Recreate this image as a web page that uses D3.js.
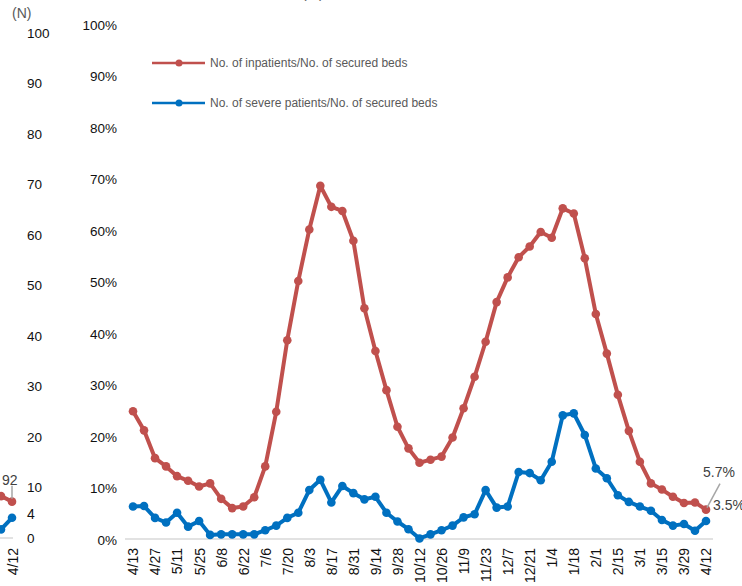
<!DOCTYPE html>
<html>
<head>
<meta charset="utf-8">
<script src="https://cdn.jsdelivr.net/npm/d3@7"></script>
<style>
  html, body { margin: 0; padding: 0; background: #fff; }
  svg { display: block; font-family: "Liberation Sans", Arial, sans-serif; }
</style>
</head>
<body>
<svg id="chart" width="742" height="586"></svg>
<script>
// ---- Data ----
const weeks = ["4/13","4/20","4/27","5/4","5/11","5/18","5/25","6/1","6/8","6/15","6/22","6/29",
  "7/6","7/13","7/20","7/27","8/3","8/10","8/17","8/24","8/31","9/7","9/14","9/21","9/28",
  "10/5","10/12","10/19","10/26","11/2","11/9","11/16","11/23","11/30","12/7","12/14","12/21","12/28",
  "1/4","1/11","1/18","1/25","2/1","2/8","2/15","2/22","3/1","3/8","3/15","3/22","3/29","4/5","4/12"];
const inpatientPct = [24.8,21.1,15.7,14.1,12.2,11.3,10.2,10.8,7.8,6.0,6.3,8.1,
  14.1,24.7,38.6,50.1,60.1,68.6,64.5,63.7,57.9,44.8,36.5,28.9,21.8,
  17.6,14.8,15.4,16.0,19.7,25.4,31.5,38.3,46.0,50.8,54.7,56.8,59.6,
  58.5,64.2,63.2,54.5,43.7,36.0,28.0,21.0,15.0,10.8,9.6,8.2,7.0,7.1,5.7];
const severePct = [6.3,6.4,4.1,3.2,5.1,2.4,3.5,0.8,0.9,0.9,0.9,0.9,
  1.7,2.6,4.1,5.1,9.5,11.5,7.1,10.3,8.9,7.7,8.2,5.1,3.4,
  1.9,0.1,0.9,1.7,2.6,4.2,4.8,9.5,6.1,6.3,13.0,12.8,11.4,
  15.0,24.0,24.4,20.2,13.7,11.8,8.5,7.2,6.3,5.5,3.7,2.6,2.9,1.6,3.5];
const pctTicks = [0,10,20,30,40,50,60,70,80,90,100];
const nTicks = [0,10,20,30,40,50,60,70,80,90,100];
const legendLabels = ["No. of inpatients/No. of secured beds", "No. of severe patients/No. of secured beds"];
const endLabels = ["5.7%", "3.5%"];

// cropped neighbouring panel (N units)
const leftWeeks = ["4/5","4/12"];
const leftInpatients = [8.3, 7.2];
const leftSevere = [1.7, 4];
const leftEndLabels = ["92", "4"];

// ---- Setup ----
const RED = "#C0504D", BLUE = "#0070C0";
const svg = d3.select("#chart");

const x = d3.scalePoint().domain(weeks).range([133, 706]);
const y = d3.scaleLinear().domain([0, 100]).range([539, 24]);
const xLeft = d3.scalePoint().domain(leftWeeks).range([1, 12]);
const yN = d3.scaleLinear().domain([0, 100]).range([538, 33]);

// ---- Axes ----
const pctAxis = d3.axisLeft(y).tickValues(pctTicks).tickSize(0).tickPadding(0)
  .tickFormat(d => d + "%");
const gPct = svg.append("g").attr("transform", "translate(117,1)").call(pctAxis);
gPct.select(".domain").remove();
gPct.selectAll("text").attr("font-size", 13.5).attr("fill", "#111")
  .attr("font-family", "'Liberation Sans', Arial, sans-serif");

const nAxis = d3.axisRight(yN).tickValues(nTicks).tickSize(0).tickPadding(0);
const gN = svg.append("g").attr("transform", "translate(27,0)").call(nAxis);
gN.select(".domain").remove();
gN.selectAll("text").attr("font-size", 13.5).attr("fill", "#111")
  .attr("font-family", "'Liberation Sans', Arial, sans-serif");

svg.append("text").attr("x", 12).attr("y", 18).attr("font-size", 14)
  .attr("fill", "#595959").text("(N)");
svg.append("text").attr("x", 302).attr("y", -2.5).attr("font-size", 14)
  .attr("fill", "#595959").text("(%)");

// baselines
svg.append("line").attr("x1", 125).attr("x2", 713).attr("y1", y(0)).attr("y2", y(0))
  .attr("stroke", "#d9d9d9").attr("stroke-width", 1.5);
svg.append("line").attr("x1", 0).attr("x2", 13).attr("y1", yN(0)).attr("y2", yN(0))
  .attr("stroke", "#d9d9d9").attr("stroke-width", 1.5);

// x tick labels
const xAxis = d3.axisBottom(x).tickValues(weeks.filter((d, i) => i % 2 === 0)).tickSize(0).tickPadding(0);
const gX = svg.append("g").attr("transform", "translate(0,548)").call(xAxis);
gX.select(".domain").remove();
gX.selectAll("text")
  .attr("transform", "rotate(-90)")
  .attr("text-anchor", "end")
  .attr("x", 0).attr("y", 0).attr("dy", "0.35em")
  .attr("font-size", 14).attr("fill", "#111")
  .attr("font-family", "'Liberation Sans', Arial, sans-serif");

const gXL = svg.append("g").attr("transform", "translate(1,548)")
  .call(d3.axisBottom(xLeft).tickValues(["4/12"]).tickSize(0).tickPadding(0));
gXL.select(".domain").remove();
gXL.selectAll("text")
  .attr("transform", "rotate(-90)").attr("text-anchor", "end")
  .attr("x", 0).attr("y", 0).attr("dy", "0.35em")
  .attr("font-size", 14).attr("fill", "#111")
  .attr("font-family", "'Liberation Sans', Arial, sans-serif");

// ---- Series ----
function drawSeries(values, color, xs, ys, keys) {
  const line = d3.line().x((d, i) => xs(keys[i])).y(d => ys(d));
  svg.append("path").datum(values).attr("d", line)
    .attr("fill", "none").attr("stroke", color).attr("stroke-width", 4)
    .attr("stroke-linejoin", "round").attr("stroke-linecap", "round");
  svg.append("g").selectAll("circle").data(values).join("circle")
    .attr("cx", (d, i) => xs(keys[i])).attr("cy", d => ys(d)).attr("r", 4.3)
    .attr("fill", color);
}
drawSeries(inpatientPct, RED, x, y, weeks);
drawSeries(severePct, BLUE, x, y, weeks);
drawSeries(leftInpatients, RED, xLeft, yN, leftWeeks);
drawSeries(leftSevere, BLUE, xLeft, yN, leftWeeks);

// ---- End labels ----
const lastW = weeks[weeks.length - 1];
const lx = x(lastW), ly = y(inpatientPct[inpatientPct.length - 1]);
svg.append("line").attr("x1", lx + 1).attr("y1", ly - 2).attr("x2", lx + 14).attr("y2", ly - 26)
  .attr("stroke", "#a6a6a6").attr("stroke-width", 1.5);
svg.append("text").attr("x", lx - 3).attr("y", ly - 33).attr("font-size", 14)
  .attr("fill", "#404040").text(endLabels[0]);
svg.append("text").attr("x", lx + 7).attr("y", ly).attr("font-size", 14)
  .attr("fill", "#404040").text(endLabels[1]);

const llx = xLeft("4/12"), lly = yN(leftInpatients[1]);
svg.append("line").attr("x1", llx).attr("y1", lly - 3).attr("x2", llx).attr("y2", lly - 16)
  .attr("stroke", "#a6a6a6").attr("stroke-width", 1.5);
svg.append("text").attr("x", 2).attr("y", lly - 17).attr("font-size", 14)
  .attr("fill", "#404040").text(leftEndLabels[0]);
svg.append("text").attr("x", 27).attr("y", yN(leftSevere[1]) - 4).attr("font-size", 14)
  .attr("dy", "0.35em").attr("fill", "#111").text(leftEndLabels[1]);

// ---- Legend ----
const legend = svg.append("g");
[RED, BLUE].forEach((c, i) => {
  const ly2 = 63 + i * 40;
  legend.append("line").attr("x1", 152).attr("x2", 205).attr("y1", ly2).attr("y2", ly2)
    .attr("stroke", c).attr("stroke-width", 2.5);
  legend.append("circle").attr("cx", 179).attr("cy", ly2).attr("r", 3.5).attr("fill", c);
  legend.append("text").attr("x", 210).attr("y", ly2).attr("dy", "0.35em")
    .attr("font-size", 12).attr("fill", "#595959").text(legendLabels[i]);
});
</script>
</body>
</html>
